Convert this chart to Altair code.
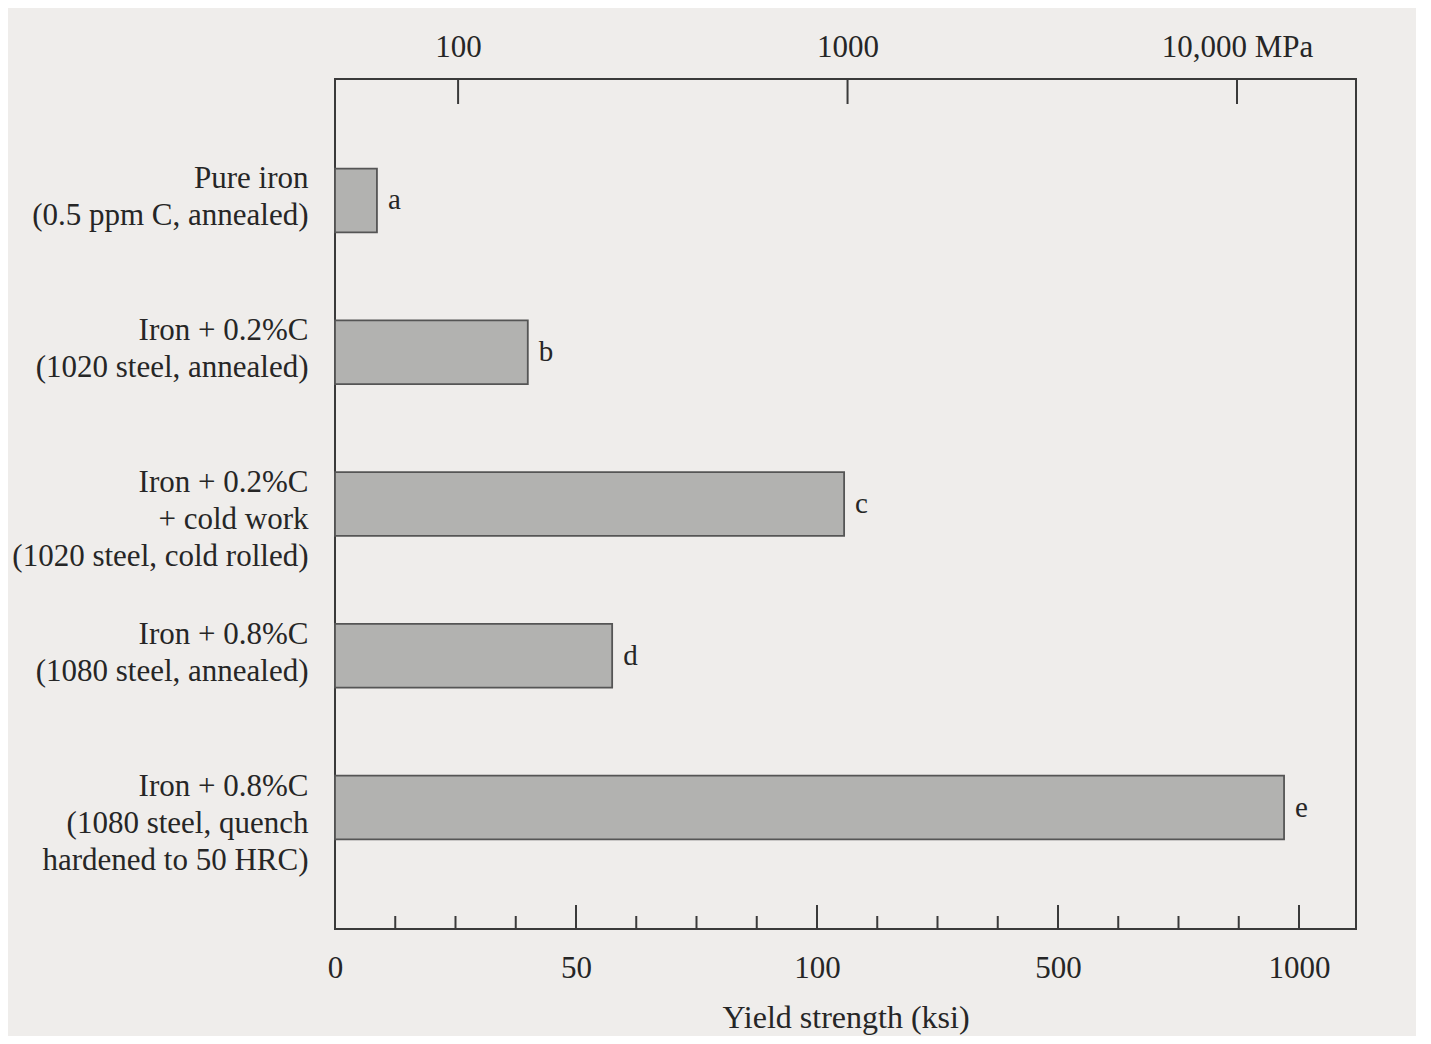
import altair as alt
import pandas as pd

# ---- data ----
labels = [
    "Pure iron|(0.5 ppm C, annealed)",
    "Iron + 0.2%C|(1020 steel, annealed)",
    "Iron + 0.2%C|+ cold work|(1020 steel, cold rolled)",
    "Iron + 0.8%C|(1080 steel, annealed)",
    "Iron + 0.8%C|(1080 steel, quench|hardened to 50 HRC)",
]
letters = ["a", "b", "c", "d", "e"]
yield_ksi = [8.7, 40, 145, 57.5, 969]

ksi_major = [0, 50, 100, 500, 1000]
ksi_minor = [12.5, 25, 37.5, 62.5, 75, 87.5, 200, 300, 400, 625, 750, 875]
mpa_ticks = [100, 1000, 10000]

df = pd.DataFrame({"label": labels, "letter": letters, "ksi": yield_ksi})
df_major = pd.DataFrame({"ksi": ksi_major})
df_minor = pd.DataFrame({"ksi": ksi_minor})
df_top = pd.DataFrame({"mpa": mpa_ticks})

FONT = "Liberation Serif"
TXT = "#262626"
TICK = "#3a3a3a"
W, H = 1021, 850

xscale = alt.Scale(domain=[0, 100, 500, 1000, 1118],
                   range=[0, 482, 723, 964, W], nice=False, zero=False)
yscale = alt.Scale(paddingInner=0.58, paddingOuter=0.59)

x_axis = alt.Axis(
    values=ksi_major, title="Yield strength (ksi)", orient="bottom",
    format="d", ticks=False, tickSize=0, labelPadding=48, labelFlush=False,
    labelBaseline="alphabetic", domain=False, grid=False,
    labelFont=FONT, labelFontSize=31, labelColor=TXT,
    titleFont=FONT, titleFontSize=32, titleFontWeight="normal",
    titleColor=TXT, titlePadding=19,
)

y_axis = alt.Axis(
    title=None, labelExpr="split(datum.label, '|')",
    ticks=False, domain=False, grid=False,
    labelFont=FONT, labelFontSize=31, labelColor=TXT,
    labelBaseline="top", labelOffset=-36, labelLineHeight=37,
    labelPadding=27, labelLimit=0, labelAlign="right",
)

bars = alt.Chart(df).mark_bar(
    fill="#b2b2b0", stroke="#555555", strokeWidth=1.8
).encode(
    x=alt.X("ksi:Q", scale=xscale, axis=x_axis),
    y=alt.Y("label:N", sort=None, scale=yscale, axis=y_axis),
)

texts = alt.Chart(df).mark_text(
    align="left", baseline="middle", dx=11, font=FONT, fontSize=29, color=TXT
).encode(
    x=alt.X("ksi:Q", scale=xscale),
    y=alt.Y("label:N", sort=None, scale=yscale),
    text="letter:N",
)

major_ticks = alt.Chart(df_major).mark_rule(color=TICK, strokeWidth=2).encode(
    x=alt.X("ksi:Q", scale=xscale),
    y=alt.value(H), y2=alt.value(H - 24),
)
minor_ticks = alt.Chart(df_minor).mark_rule(color=TICK, strokeWidth=2).encode(
    x=alt.X("ksi:Q", scale=xscale),
    y=alt.value(H), y2=alt.value(H - 13),
)

inner = alt.layer(bars, texts, major_ticks, minor_ticks)

top_axis = alt.Axis(
    orient="top", values=mpa_ticks, title=None,
    labelExpr="datum.value == 10000 ? '10,000 MPa' : format(datum.value, 'd')",
    ticks=False, tickSize=0, labelPadding=23, labelBaseline="alphabetic",
    labelFlush=False, domain=False, grid=False,
    labelFont=FONT, labelFontSize=31, labelColor=TXT,
)

top = alt.Chart(df_top).mark_rule(color=TICK, strokeWidth=2).encode(
    x=alt.X("mpa:Q", scale=alt.Scale(type="log", domain=[48.3, 20210], nice=False),
            axis=top_axis),
    y=alt.value(0), y2=alt.value(25),
)

chart = alt.layer(inner, top).resolve_scale(x="independent").properties(
    width=W, height=H,
    background="#efedeb",
    padding={"left": 3, "top": 23, "right": 60, "bottom": 3},
).configure_view(stroke="#3a3a3a", strokeWidth=2)

chart.save("out.html", embed_options={"renderer": "svg", "actions": False})
